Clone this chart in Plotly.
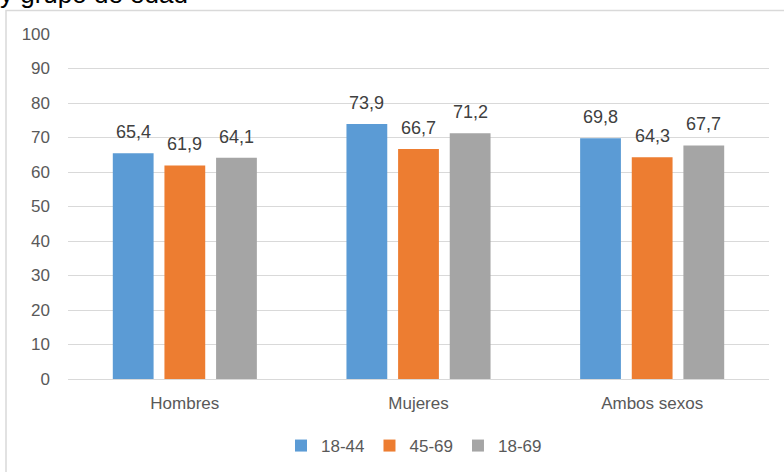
import plotly.graph_objects as go

categories = ["Hombres", "Mujeres", "Ambos sexos"]
series_names = ["18-44", "45-69", "18-69"]
values_18_44 = [65.4, 73.9, 69.8]
values_45_69 = [61.9, 66.7, 64.3]
values_18_69 = [64.1, 71.2, 67.7]
series_values = [values_18_44, values_45_69, values_18_69]
colors = ["#5B9BD5", "#ED7D31", "#A5A5A5"]
y_ticks = [0, 10, 20, 30, 40, 50, 60, 70, 80, 90, 100]
title_text = "y grupo de edad"

W, H = 784, 472
L, R, T, B = 68, 15, 34, 93
pw, ph = W - L - R, H - T - B

def px_x(p):
    return (p - L) / pw

def px_y(p):
    return (H - B - p) / ph

FONT = "Liberation Sans"
fig = go.Figure()
for name, vals, col in zip(series_names, series_values, colors):
    fig.add_trace(go.Bar(name=name, x=categories, y=vals, marker_color=col,
                         marker_line_width=0))

# data labels
slot = 51.7
for i, vals in enumerate(series_values):
    for c, v in zip(categories, vals):
        fig.add_annotation(x=c, y=v, xref="x", yref="y",
                           text=f"{v:.1f}".replace(".", ","), showarrow=False,
                           xshift=(i - 1) * slot, yanchor="bottom", yshift=9,
                           font=dict(family=FONT, size=18, color="#404040"))

fig.add_annotation(x=px_x(-2), y=px_y(11), xref="paper", yref="paper",
                   xanchor="left", yanchor="bottom", showarrow=False,
                   text=title_text, font=dict(family=FONT, size=26, color="#000000"))

fig.add_shape(type="rect", xref="paper", yref="paper",
              x0=px_x(6), x1=px_x(800), y0=px_y(520), y1=px_y(10.5),
              line=dict(color="#D9D9D9", width=1.5), layer="below")

fig.update_layout(
    width=W, height=H,
    margin=dict(l=L, r=R, t=T, b=B, autoexpand=False),
    paper_bgcolor="white", plot_bgcolor="white",
    barmode="group", bargap=0.337, bargroupgap=0.21,
    font=dict(family=FONT, size=17, color="#595959"),
    showlegend=True,
    legend=dict(orientation="h", xref="container", x=414 / W, xanchor="center",
                yref="container", y=(H - 446) / H, yanchor="middle",
                font=dict(size=17, color="#595959"),
                itemwidth=30, tracegroupgap=0),
    xaxis=dict(showgrid=False, showline=False, ticks="", ticklabelstandoff=12,
               tickfont=dict(size=17, color="#595959")),
    yaxis=dict(range=[0, 100], tickvals=y_ticks, showgrid=True, gridcolor="#D9D9D9",
               gridwidth=1, zeroline=True, zerolinecolor="#D9D9D9", zerolinewidth=1,
               showline=False, ticks="", ticklabelstandoff=17,
               tickfont=dict(size=17, color="#595959")),
)

fig.write_html("out.html", config={"displayModeBar": False},
               post_script="document.body.style.margin='0';")
